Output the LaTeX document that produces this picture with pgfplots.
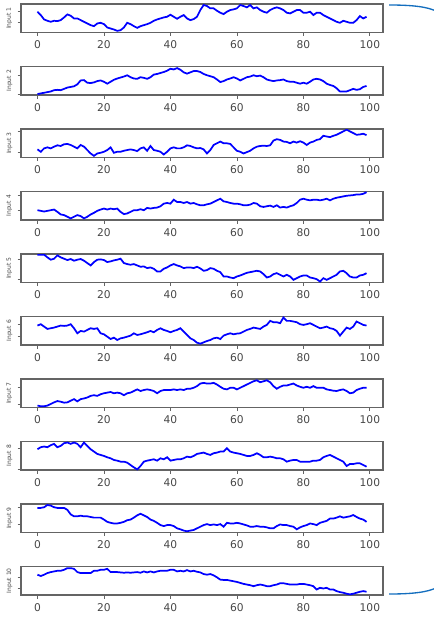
\documentclass[border=0pt]{standalone}
\usepackage{fontspec}
\setmainfont{DejaVu Sans}
\usepackage{pgfplots}
\pgfplotsset{compat=1.18}
\definecolor{brace}{RGB}{20,110,190}
\definecolor{axgray}{RGB}{100,100,100}
\definecolor{lblgray}{RGB}{70,70,70}
\pgfplotsset{
  sub/.style={
    scale only axis, width=271.5pt, height=21.4pt,
    anchor=north west,
    xmin=-4.95, xmax=103.95, y dir=reverse,
    axis line style={axgray, line width=1pt},
    xtick={0,20,40,60,80,100},
    tick style={axgray, line width=0.6pt},
    tick align=outside, xtick pos=bottom, ytick pos=left,
    major tick length=2.6pt,
    yticklabels={},
    /pgf/number format/assume math mode=true,
    tick label style={font=\fontsize{8}{9}\selectfont, text=lblgray},
    every axis y label/.style={at={(rel axis cs:-0.032,0.5)}, rotate=90, anchor=center, font=\fontsize{4.5}{5}\selectfont, text=lblgray},
  },
  ser/.style={blue, line width=1.3pt, no markers},
}
\begin{document}
\begin{tikzpicture}
\path[use as bounding box] (0,0) rectangle (434*0.75pt,-617*0.75pt);

% 1
\begin{axis}[sub, at={(21*0.75pt,-4*0.75pt)}, ymin=12, ymax=97, ytick={33,68}, ylabel={Input 1}]
\addplot[ser] table[row sep=\\, x expr=\coordindex, y=y] {y\\
35\\45\\58\\62\\65\\62\\63\\60\\52\\43\\
47\\55\\55\\60\\65\\70\\75\\78\\70\\68\\
72\\82\\85\\88\\92\\90\\82\\68\\72\\78\\
83\\78\\75\\72\\68\\62\\58\\55\\52\\50\\
44\\50\\56\\50\\45\\55\\60\\57\\50\\30\\
15\\18\\25\\25\\32\\38\\42\\35\\30\\28\\
25\\15\\18\\22\\15\\25\\22\\30\\35\\38\\
30\\25\\22\\25\\30\\38\\40\\35\\30\\30\\
38\\38\\35\\45\\38\\38\\45\\50\\55\\60\\
65\\68\\62\\65\\68\\68\\60\\48\\55\\50\\
};
\end{axis}

% 2
\begin{axis}[sub, at={(21*0.75pt,-66.5*0.75pt)}, ymin=15, ymax=103, ytick={42,100}, ylabel={Input 2}]
\addplot[ser] table[row sep=\\, x expr=\coordindex, y=y] {y\\
100\\98\\96\\94\\92\\88\\87\\88\\84\\80\\
78\\76\\70\\58\\57\\65\\66\\64\\60\\58\\
62\\68\\62\\56\\52\\49\\46\\42\\48\\52\\
53\\48\\50\\53\\48\\40\\38\\35\\32\\28\\
22\\24\\20\\25\\33\\37\\33\\29\\29\\32\\
38\\42\\45\\48\\55\\63\\60\\55\\52\\48\\
52\\58\\53\\48\\46\\42\\45\\43\\48\\55\\
58\\60\\58\\57\\55\\60\\62\\62\\65\\68\\
65\\68\\62\\55\\53\\55\\60\\68\\72\\75\\
82\\92\\92\\92\\88\\84\\87\\85\\78\\75\\
};
\end{axis}

% 3
\begin{axis}[sub, at={(21*0.75pt,-129*0.75pt)}, ymin=28, ymax=112, ytick={35,98}, ylabel={Input 3}]
\addplot[ser] table[row sep=\\, x expr=\coordindex, y=y] {y\\
88\\95\\85\\82\\85\\80\\76\\78\\73\\72\\
75\\80\\85\\75\\80\\90\\100\\107\\100\\98\\
95\\90\\82\\98\\95\\95\\92\\90\\88\\90\\
93\\85\\82\\92\\78\\90\\92\\95\\103\\95\\
85\\82\\85\\85\\82\\76\\78\\82\\85\\84\\
88\\100\\90\\75\\70\\65\\70\\70\\72\\82\\
92\\95\\100\\96\\92\\85\\80\\78\\77\\78\\
76\\62\\58\\60\\65\\66\\70\\65\\68\\64\\
68\\75\\68\\65\\60\\58\\48\\50\\52\\48\\
45\\40\\35\\30\\35\\40\\45\\44\\42\\46\\
};
\end{axis}

% 4
\begin{axis}[sub, at={(21*0.75pt,-191.5*0.75pt)}, ymin=213, ymax=300, ytick={225,270}, ylabel={Input 4}]
\addplot[ser] table[row sep=\\, x expr=\coordindex, y=y] {y\\
270\\272\\274\\272\\270\\268\\275\\283\\285\\290\\
295\\290\\285\\288\\295\\290\\283\\278\\272\\268\\
265\\268\\265\\267\\265\\275\\282\\280\\275\\270\\
270\\267\\270\\263\\265\\263\\262\\258\\250\\248\\
250\\238\\245\\245\\248\\245\\250\\248\\252\\255\\
255\\252\\250\\245\\240\\235\\243\\245\\248\\250\\
250\\252\\255\\255\\253\\248\\250\\258\\260\\258\\
256\\260\\255\\262\\260\\262\\258\\255\\248\\238\\
235\\238\\240\\238\\238\\240\\238\\235\\240\\235\\
232\\230\\228\\226\\225\\224\\222\\222\\220\\215\\
};
\end{axis}

% 5
\begin{axis}[sub, at={(21*0.75pt,-254*0.75pt)}, ymin=28, ymax=113, ytick={45,105}, ylabel={Input 5}]
\addplot[ser] table[row sep=\\, x expr=\coordindex, y=y] {y\\
30\\30\\30\\38\\45\\42\\32\\38\\42\\46\\
43\\48\\45\\43\\48\\55\\62\\52\\45\\44\\
46\\52\\50\\47\\45\\42\\55\\58\\60\\58\\
62\\66\\65\\70\\68\\72\\80\\80\\72\\68\\
62\\58\\62\\65\\70\\68\\68\\70\\66\\71\\
78\\76\\70\\72\\78\\82\\95\\95\\98\\100\\
95\\92\\88\\84\\82\\80\\78\\80\\88\\98\\
95\\88\\85\\90\\95\\90\\95\\105\\100\\95\\
92\\92\\98\\100\\103\\110\\100\\105\\100\\95\\
90\\80\\78\\85\\95\\98\\98\\92\\90\\85\\
};
\end{axis}

% 6
\begin{axis}[sub, at={(21*0.75pt,-316.5*0.75pt)}, ymin=215, ymax=300, ytick={238,275}, ylabel={Input 6}]
\addplot[ser] table[row sep=\\, x expr=\coordindex, y=y] {y\\
242\\238\\245\\252\\250\\248\\245\\242\\243\\242\\
238\\250\\265\\258\\260\\255\\250\\252\\250\\265\\
268\\275\\282\\278\\285\\280\\278\\275\\272\\265\\
270\\268\\265\\262\\258\\262\\255\\250\\255\\258\\
262\\258\\255\\250\\260\\270\\280\\285\\293\\296\\
292\\288\\285\\280\\278\\282\\272\\268\\265\\268\\
266\\265\\260\\255\\252\\248\\250\\252\\245\\240\\
228\\232\\232\\235\\218\\228\\228\\230\\232\\238\\
240\\238\\235\\240\\245\\250\\248\\245\\250\\252\\
258\\272\\260\\248\\252\\245\\230\\235\\240\\242\\
};
\end{axis}

% 7
\begin{axis}[sub, at={(21*0.75pt,-379*0.75pt)}, ymin=28, ymax=116, ytick={55,105}, ylabel={Input 7}]
\addplot[ser] table[row sep=\\, x expr=\coordindex, y=y] {y\\
110\\112\\112\\110\\105\\100\\96\\98\\101\\100\\
95\\90\\97\\90\\88\\85\\80\\78\\80\\75\\
72\\70\\68\\72\\70\\72\\78\\72\\70\\65\\
60\\65\\62\\60\\62\\65\\72\\65\\62\\62\\
62\\60\\62\\60\\62\\58\\58\\55\\50\\42\\
40\\42\\42\\40\\45\\52\\58\\60\\55\\55\\
60\\55\\50\\45\\40\\35\\32\\38\\35\\32\\
38\\50\\58\\52\\48\\48\\45\\42\\48\\52\\
55\\52\\55\\50\\55\\55\\55\\60\\62\\64\\
65\\62\\60\\65\\72\\70\\62\\58\\55\\55\\
};
\end{axis}

% 8
\begin{axis}[sub, at={(21*0.75pt,-441.5*0.75pt)}, ymin=215, ymax=300, ytick={235,298}, ylabel={Input 8}]
\addplot[ser] table[row sep=\\, x expr=\coordindex, y=y] {y\\
238\\232\\230\\232\\226\\222\\232\\228\\220\\218\\
222\\218\\222\\232\\218\\228\\238\\245\\252\\255\\
258\\262\\265\\270\\272\\275\\275\\278\\285\\292\\
298\\288\\275\\272\\270\\268\\272\\265\\268\\262\\
272\\270\\268\\268\\265\\260\\262\\258\\252\\250\\
248\\252\\255\\250\\248\\245\\245\\235\\245\\248\\
250\\252\\255\\258\\258\\255\\250\\255\\262\\262\\
260\\262\\265\\265\\268\\275\\272\\270\\270\\275\\
275\\275\\275\\272\\272\\270\\262\\258\\255\\260\\
265\\270\\275\\288\\282\\282\\280\\280\\285\\290\\
};
\end{axis}

% 9
\begin{axis}[sub, at={(21*0.75pt,-504*0.75pt)}, ymin=30, ymax=118, ytick={42,92}, ylabel={Input 9}]
\addplot[ser] table[row sep=\\, x expr=\coordindex, y=y] {y\\
42\\42\\40\\33\\35\\40\\42\\42\\42\\48\\
62\\68\\68\\66\\68\\68\\70\\72\\72\\72\\
78\\85\\88\\90\\90\\88\\85\\80\\78\\72\\
65\\60\\65\\70\\78\\82\\88\\95\\98\\95\\
95\\98\\105\\108\\112\\114\\112\\110\\105\\100\\
95\\92\\95\\93\\95\\92\\100\\88\\90\\90\\
88\\90\\93\\96\\100\\100\\98\\100\\100\\102\\
105\\105\\98\\93\\95\\95\\98\\100\\108\\102\\
98\\95\\90\\92\\95\\88\\85\\82\\75\\75\\
72\\68\\72\\70\\68\\64\\70\\75\\78\\85\\
};
\end{axis}

% 10
\begin{axis}[sub, at={(21*0.75pt,-566.5*0.75pt)}, ymin=215, ymax=302, ytick={248,283}, ylabel={Input 10}]
\addplot[ser] table[row sep=\\, x expr=\coordindex, y=y] {y\\
240\\244\\240\\235\\232\\230\\228\\228\\225\\220\\
220\\222\\232\\235\\235\\235\\235\\228\\228\\225\\
225\\222\\232\\232\\232\\233\\234\\233\\234\\233\\
232\\234\\230\\233\\230\\233\\230\\228\\228\\228\\
225\\225\\230\\228\\230\\226\\230\\228\\231\\233\\
238\\240\\238\\242\\248\\255\\256\\256\\258\\260\\
262\\265\\268\\270\\272\\275\\272\\270\\272\\275\\
275\\272\\270\\266\\266\\268\\270\\270\\270\\268\\
268\\270\\272\\275\\285\\280\\282\\280\\285\\285\\
290\\293\\295\\298\\300\\298\\295\\292\\290\\292\\
};
\end{axis}

% brace
\draw[brace, line width=1pt] (389*0.75pt,-5*0.75pt) .. controls (414*0.75pt,-5*0.75pt) and (428*0.75pt,-7*0.75pt) .. (437*0.75pt,-11.5*0.75pt);
\draw[brace, line width=1pt] (389*0.75pt,-594*0.75pt) .. controls (414*0.75pt,-594*0.75pt) and (428*0.75pt,-592*0.75pt) .. (437*0.75pt,-587.5*0.75pt);
\end{tikzpicture}
\end{document}
